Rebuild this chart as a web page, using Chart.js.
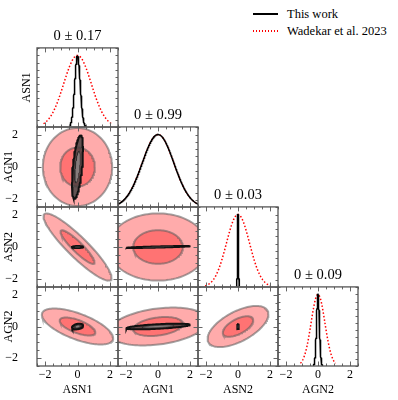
<!DOCTYPE html>
<html>
<head>
<meta charset="utf-8">
<script src="https://cdn.jsdelivr.net/npm/chart.js@4.4.1/dist/chart.umd.min.js"></script>
<style>
  html, body { margin: 0; padding: 0; background: #fff; }
  #wrap { position: relative; width: 398px; height: 400px; overflow: hidden; font-family: 'Liberation Serif', serif; }
  #wrap canvas { position: absolute; }
  .leg { position: absolute; font-size: 12.5px; color: #000; white-space: nowrap; line-height: 14px; }
  .legline { position: absolute; width: 25px; height: 1.5px; }
</style>
</head>
<body>
<div id="wrap">
  <div class="legline" style="left:253px;top:13px;background:#000"></div>
  <div class="leg" style="left:287px;top:7px">This work</div>
  <div class="legline" style="left:253px;top:30px;background:repeating-linear-gradient(to right,#f00 0 1.5px,transparent 1.5px 3px)"></div>
  <div class="leg" style="left:287px;top:23.5px">Wadekar et al. 2023</div>
</div>
<script>
const params = ['ASN1', 'AGN1', 'ASN2', 'AGN2'];
const titles = ['0 \u00b1 0.17', '0 \u00b1 0.99', '0 \u00b1 0.03', '0 \u00b1 0.09'];

// 1D: widths of the diagonal curves and how far each curve is drawn
const thisWorkSigma = [0.17, 0.99, 0.03, 0.09];
const wadekarSigma = [0.85, 0.99, 0.72, 0.43];
const thisWorkSpan = [0.5, 2.5, 0.1, 0.3];
const wadekarSpan = [2.1, 2.5, 2.05, 1.1];

// 2D panels as [row, col]; x parameter = col, y parameter = row
const pairs = [[1, 0], [2, 0], [2, 1], [3, 0], [3, 1], [3, 2]];
const wadekarSx = [1.07, 1.05, 1.55, 1.1, 1.55, 0.95];
const wadekarSy = [1.22, 1.05, 1.05, 0.57, 0.6, 0.65];
const wadekarRho = [0, -0.91, 0, -0.65, 0.3, 0.6];
const thisWorkRho = [0.55, 0, 0.8, 0.3, 0.6, 0.5];
const contourLevels = [2, 1];

const axisTicks = [-2, 0, 2];
const axisMin = -2.5;
const axisMax = 2.5;
const diagMax = 1.105;

// panel edges in page pixels
const colX = [37, 118, 198, 278, 358];
const rowY = [48, 127, 207, 287, 366];
const pad = 4;
const titleH = 24;
const serif = "'Liberation Serif', serif";

const wrap = document.getElementById('wrap');

function fmt(v) {
    return v < 0 ? '\u2212' + Math.abs(v) : String(v);
}

function gaussian(sigma, span) {
    const pts = [];
    for (let i = 0; i <= 160; i++) {
        const x = -span + 2 * span * i / 160;
        pts.push({ x: x, y: Math.exp(-0.5 * (x / sigma) * (x / sigma)) });
    }
    return pts;
}

function ellipse(sx, sy, rho, k) {
    const pts = [];
    const s = Math.sqrt(1 - rho * rho);
    for (let i = 0; i <= 120; i++) {
        const t = 2 * Math.PI * i / 120;
        pts.push({ x: k * sx * Math.cos(t), y: k * sy * (rho * Math.cos(t) + s * Math.sin(t)) });
    }
    return pts;
}

// frame and inward ticks on all four sides
const frameTicks = {
    id: 'frameTicks',
    afterDatasetsDraw(chart) {
        const { ctx, chartArea: a, scales } = chart;
        const diag = chart.options.plugins.frameTicks.diag;
        ctx.save();
        ctx.strokeStyle = '#666';
        ctx.lineWidth = 1;
        ctx.beginPath();
        for (let i = 0; i <= 10; i++) {
            const v = axisMin + i * 0.5;
            const px = Math.round(scales.x.getPixelForValue(v)) + 0.5;
            const len = axisTicks.includes(v) ? 4.5 : 2.5;
            ctx.moveTo(px, a.bottom); ctx.lineTo(px, a.bottom - len);
            ctx.moveTo(px, a.top); ctx.lineTo(px, a.top + len);
        }
        if (diag) {
            for (let i = 0; i <= 11; i++) {
                const py = Math.round(scales.y.getPixelForValue(i * 0.1)) + 0.5;
                ctx.moveTo(a.left, py); ctx.lineTo(a.left + 2.5, py);
                ctx.moveTo(a.right, py); ctx.lineTo(a.right - 2.5, py);
            }
        } else {
            for (let i = 0; i <= 10; i++) {
                const v = axisMin + i * 0.5;
                const py = Math.round(scales.y.getPixelForValue(v)) + 0.5;
                const len = axisTicks.includes(v) ? 4.5 : 2.5;
                ctx.moveTo(a.left, py); ctx.lineTo(a.left + len, py);
                ctx.moveTo(a.right, py); ctx.lineTo(a.right - len, py);
            }
        }
        ctx.stroke();
        ctx.lineWidth = 1.3;
        ctx.strokeStyle = '#555';
        ctx.strokeRect(a.left, a.top, a.right - a.left, a.bottom - a.top);
        ctx.restore();
    }
};

function makeChart(r, c, datasets) {
    const diag = r === c;
    const left = c === 0 ? 0 : colX[c] - pad;
    const top = rowY[r] - (diag ? titleH : pad);
    const right = colX[c + 1] + pad;
    const bottom = r === 3 ? 400 : rowY[r + 1] + pad;
    const canvas = document.createElement('canvas');
    canvas.width = right - left;
    canvas.height = bottom - top;
    canvas.style.left = left + 'px';
    canvas.style.top = top + 'px';
    wrap.appendChild(canvas);

    const tickFont = { family: serif, size: 12 };
    const labelFont = { family: serif, size: 12 };
    const showX = r === 3;
    const showY = c === 0;

    new Chart(canvas, {
        type: 'scatter',
        data: { datasets: datasets },
        options: {
            responsive: false,
            animation: false,
            events: [],
            layout: { padding: { left: showY ? 0 : pad, right: pad, top: diag ? 0 : pad, bottom: showX ? 0 : pad } },
            elements: { point: { radius: 0 }, line: { tension: 0 } },
            plugins: {
                legend: { display: false },
                tooltip: { enabled: false },
                title: {
                    display: diag,
                    fullSize: false,
                    text: diag ? titles[r] : '',
                    color: '#000',
                    font: { family: serif, size: 14.5, weight: 'normal' },
                    padding: { top: 3, bottom: 3.5 }
                },
                frameTicks: { diag: diag }
            },
            scales: {
                x: {
                    type: 'linear',
                    min: axisMin,
                    max: axisMax,
                    display: showX,
                    afterBuildTicks: function (s) { s.ticks = axisTicks.map(function (v) { return { value: v }; }); },
                    afterFit: function (s) {
                        if (showX) s.height = 400 - rowY[4];
                        s.paddingLeft = 0; s.paddingRight = 0;
                    },
                    grid: { display: false, drawTicks: false },
                    border: { display: false },
                    ticks: { padding: 2, color: '#000', font: tickFont, maxRotation: 0, autoSkip: false, callback: fmt },
                    title: { display: true, text: params[c], color: '#000', font: labelFont, padding: { top: 0, bottom: 3 } }
                },
                y: {
                    type: 'linear',
                    min: diag ? 0 : axisMin,
                    max: diag ? diagMax : axisMax,
                    display: showY,
                    afterBuildTicks: function (s) { if (!diag) s.ticks = axisTicks.map(function (v) { return { value: v }; }); },
                    afterFit: function (s) {
                        if (showY) s.width = colX[0];
                        s.paddingTop = 0; s.paddingBottom = 0;
                    },
                    grid: { display: false, drawTicks: false },
                    border: { display: false },
                    ticks: { display: !diag, padding: 19, color: '#000', font: tickFont, autoSkip: false, callback: fmt },
                    title: { display: true, text: params[r], color: '#000', font: labelFont, padding: { top: diag ? 20 : 2, bottom: 0 } }
                }
            }
        },
        plugins: [frameTicks]
    });
}

// diagonal 1D panels
for (let i = 0; i < 4; i++) {
    makeChart(i, i, [
        {
            label: 'This work',
            data: gaussian(thisWorkSigma[i], thisWorkSpan[i]),
            showLine: true,
            borderColor: '#000',
            borderWidth: 1.5,
            clip: 0,
            order: 1
        },
        {
            label: 'Wadekar et al. 2023',
            data: gaussian(wadekarSigma[i], wadekarSpan[i]),
            showLine: true,
            borderColor: '#ff0000',
            borderWidth: 1.5,
            borderDash: [1.5, 2],
            clip: 0,
            order: 2
        }
    ]);
}

// 2D contour panels
pairs.forEach(function (p, j) {
    const r = p[0], c = p[1];
    const sets = [];
    contourLevels.forEach(function (k, n) {
        sets.push({
            label: 'Wadekar et al. 2023',
            data: ellipse(wadekarSx[j], wadekarSy[j], wadekarRho[j], k),
            showLine: true,
            fill: 'shape',
            backgroundColor: 'rgba(255,0,0,0.33)',
            borderColor: 'rgba(90,90,90,0.55)',
            borderWidth: 2,
            clip: 0,
            order: 4 - n
        });
    });
    contourLevels.forEach(function (k, n) {
        sets.push({
            label: 'This work',
            data: ellipse(thisWorkSigma[c], thisWorkSigma[r], thisWorkRho[j], k),
            showLine: true,
            fill: 'shape',
            backgroundColor: n === 0 ? 'rgba(60,60,60,0.8)' : 'rgba(160,160,160,0.6)',
            borderColor: n === 0 ? '#111' : 'rgba(40,40,40,0.6)',
            borderWidth: n === 0 ? 2 : 1,
            clip: 0,
            order: 2 - n
        });
    });
    makeChart(r, c, sets);
});
</script>
</body>
</html>
